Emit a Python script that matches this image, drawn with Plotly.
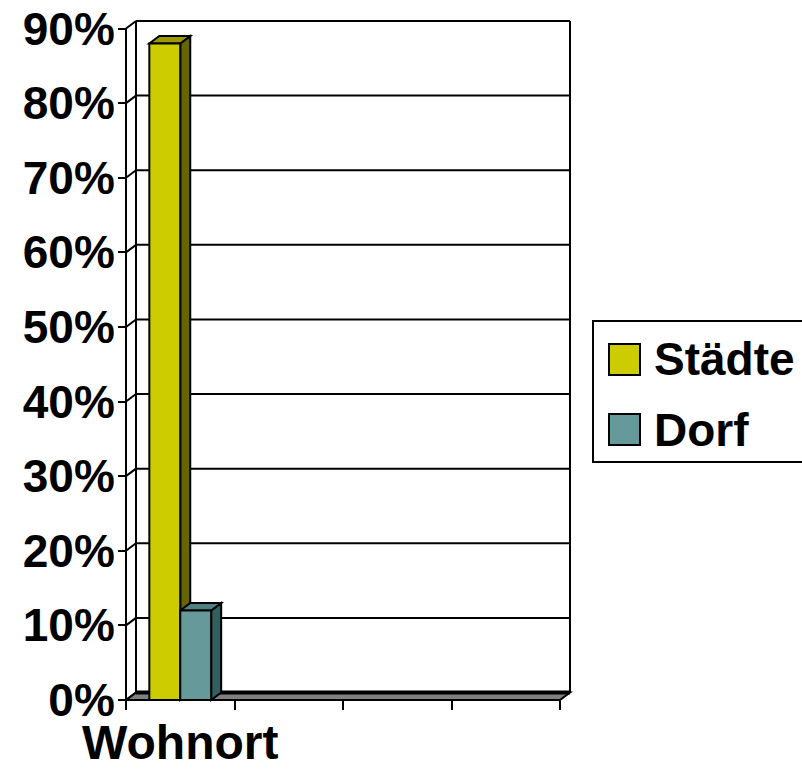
import plotly.graph_objects as go

# ---------------- data ----------------
categories = ["Wohnort", " ", "  ", "   "]
series_names = ["Städte", "Dorf"]
staedte_values = [88, None, None, None]
dorf_values = [12, None, None, None]
y_tick_values = [0, 10, 20, 30, 40, 50, 60, 70, 80, 90]
y_tick_labels = ["0%", "10%", "20%", "30%", "40%", "50%", "60%", "70%", "80%", "90%"]

# ---------------- styles ----------------
front_colors = ["#CCCC00", "#669999"]
side_colors = ["#666600", "#335F5F"]
top_colors = ["#999900", "#4D8080"]
floor_color = "#808080"
FONT = "Liberation Sans"

W, H = 802, 770
# pixel geometry of the front plane
FL, FB = 126, 700          # front-left x, front-bottom y
CAT_PX = 108.5             # pixels per category
PPY = 7.461                # pixels per percent
DX, DY = 10, 7.5           # 3-D depth offset (pixels)
# plot area (slightly larger than the chart so no line is clipped)
PL, PR, PT, PB = 116, 582, 12, 710

n_cat = len(categories)
x_pos = list(range(n_cat))
dxu = DX / CAT_PX
dyu = DY / PPY
x0f = x_pos[0] - 0.5
x1f = x_pos[-1] + 0.5
ymax = y_tick_values[-1]

xr = [x0f - (FL - PL) / CAT_PX, x0f + (PR - FL) / CAT_PX]
yr = [-(PB - FB) / PPY, (FB - PT) / PPY]

bargap = 0.43
bw = (1 - bargap) / len(series_names)

fig = go.Figure()
all_values = [staedte_values, dorf_values]
for i, (name, vals) in enumerate(zip(series_names, all_values)):
    fig.add_trace(go.Bar(
        x=x_pos, y=vals, name=name,
        marker=dict(color=front_colors[i], line=dict(color="black", width=2)),
        hoverinfo="skip", showlegend=False,
    ))

shapes = []
def line(xa, ya, xb, yb, w=2):
    shapes.append(dict(type="line", xref="x", yref="y", x0=xa, y0=ya, x1=xb, y1=yb,
                       line=dict(color="black", width=w), layer="below"))

def poly(pts, color, w=2, layer="below"):
    path = "M" + " L".join(f"{px},{py}" for px, py in pts) + " Z"
    shapes.append(dict(type="path", xref="x", yref="y", path=path,
                       fillcolor=color, line=dict(color="black", width=w), layer=layer))

# floor
poly([(x0f, 0), (x1f, 0), (x1f + dxu, dyu), (x0f + dxu, dyu)], floor_color)
# back wall gridlines and left-wall diagonals
for v in y_tick_values:
    line(x0f, v, x0f + dxu, v + dyu)
    if v > 0:
        line(x0f + dxu, v + dyu, x1f + dxu, v + dyu)
line(x0f + dxu, dyu, x1f + dxu, dyu, w=4)
# wall edges
line(x0f, 0, x0f, ymax)
line(x0f + dxu, dyu, x0f + dxu, ymax + dyu)
line(x1f + dxu, dyu, x1f + dxu, ymax + dyu)

# 3-D side and top faces of the bars
ns = len(series_names)
for i, vals in enumerate(all_values):
    for c, v in zip(x_pos, vals):
        if v is None:
            continue
        xl = c - ns * bw / 2 + i * bw
        xrr = xl + bw
        poly([(xrr, 0), (xrr, v), (xrr + dxu, v + dyu), (xrr + dxu, dyu)], side_colors[i])
        poly([(xl, v), (xrr, v), (xrr + dxu, v + dyu), (xl + dxu, v + dyu)], top_colors[i])

# ---------------- legend (manual) ----------------
def px_x(p):
    return (p - PL) / (PR - PL)

def px_y(p):
    return (PB - p) / (PB - PT)

shapes.append(dict(type="rect", xref="paper", yref="paper",
                   x0=px_x(593), x1=px_x(815), y0=px_y(462), y1=px_y(321),
                   line=dict(color="black", width=2), fillcolor="white", layer="above"))
annotations = []
legend_rows = [359.5, 429.5]
for i, name in enumerate(series_names):
    cy = legend_rows[i]
    shapes.append(dict(type="rect", xref="paper", yref="paper",
                       x0=px_x(609), x1=px_x(640), y0=px_y(cy + 15.5), y1=px_y(cy - 15.5),
                       line=dict(color="black", width=2), fillcolor=front_colors[i], layer="above"))
    annotations.append(dict(xref="paper", yref="paper", x=px_x(652), y=px_y(cy),
                            xanchor="left", yanchor="middle", text=name, showarrow=False,
                            font=dict(family=FONT, size=46, color="black", weight="bold")))

fig.update_layout(
    width=W, height=H,
    margin=dict(l=PL, r=W - PR, t=PT, b=H - PB, autoexpand=False),
    paper_bgcolor="white", plot_bgcolor="white",
    barmode="group", bargap=bargap, bargroupgap=0,
    showlegend=False,
    shapes=shapes, annotations=annotations,
    xaxis=dict(
        range=xr, anchor="free", position=px_y(FB),
        tickmode="array", tickvals=x_pos, ticktext=categories, ticks="",
        showgrid=False, zeroline=False, showline=False,
        tickfont=dict(family=FONT, size=48, color="black", weight="bold"),
        ticklabelstandoff=10,
        minor=dict(tickmode="array", tickvals=[c - 0.5 for c in x_pos] + [x_pos[-1] + 0.5],
                   ticks="outside", ticklen=9, tickwidth=2, tickcolor="black", showgrid=False),
        fixedrange=True,
    ),
    yaxis=dict(
        range=yr, anchor="free", position=px_x(FL),
        tickmode="array", tickvals=y_tick_values, ticktext=y_tick_labels,
        ticks="outside", ticklen=8, tickwidth=2, tickcolor="black",
        showgrid=False, zeroline=False, showline=False,
        tickfont=dict(family=FONT, size=46, color="black", weight="bold"),
        ticklabelstandoff=-6,
        fixedrange=True,
    ),
)

fig.write_html("out.html", config={"displayModeBar": False},
               post_script="document.body.style.margin='0px';")
